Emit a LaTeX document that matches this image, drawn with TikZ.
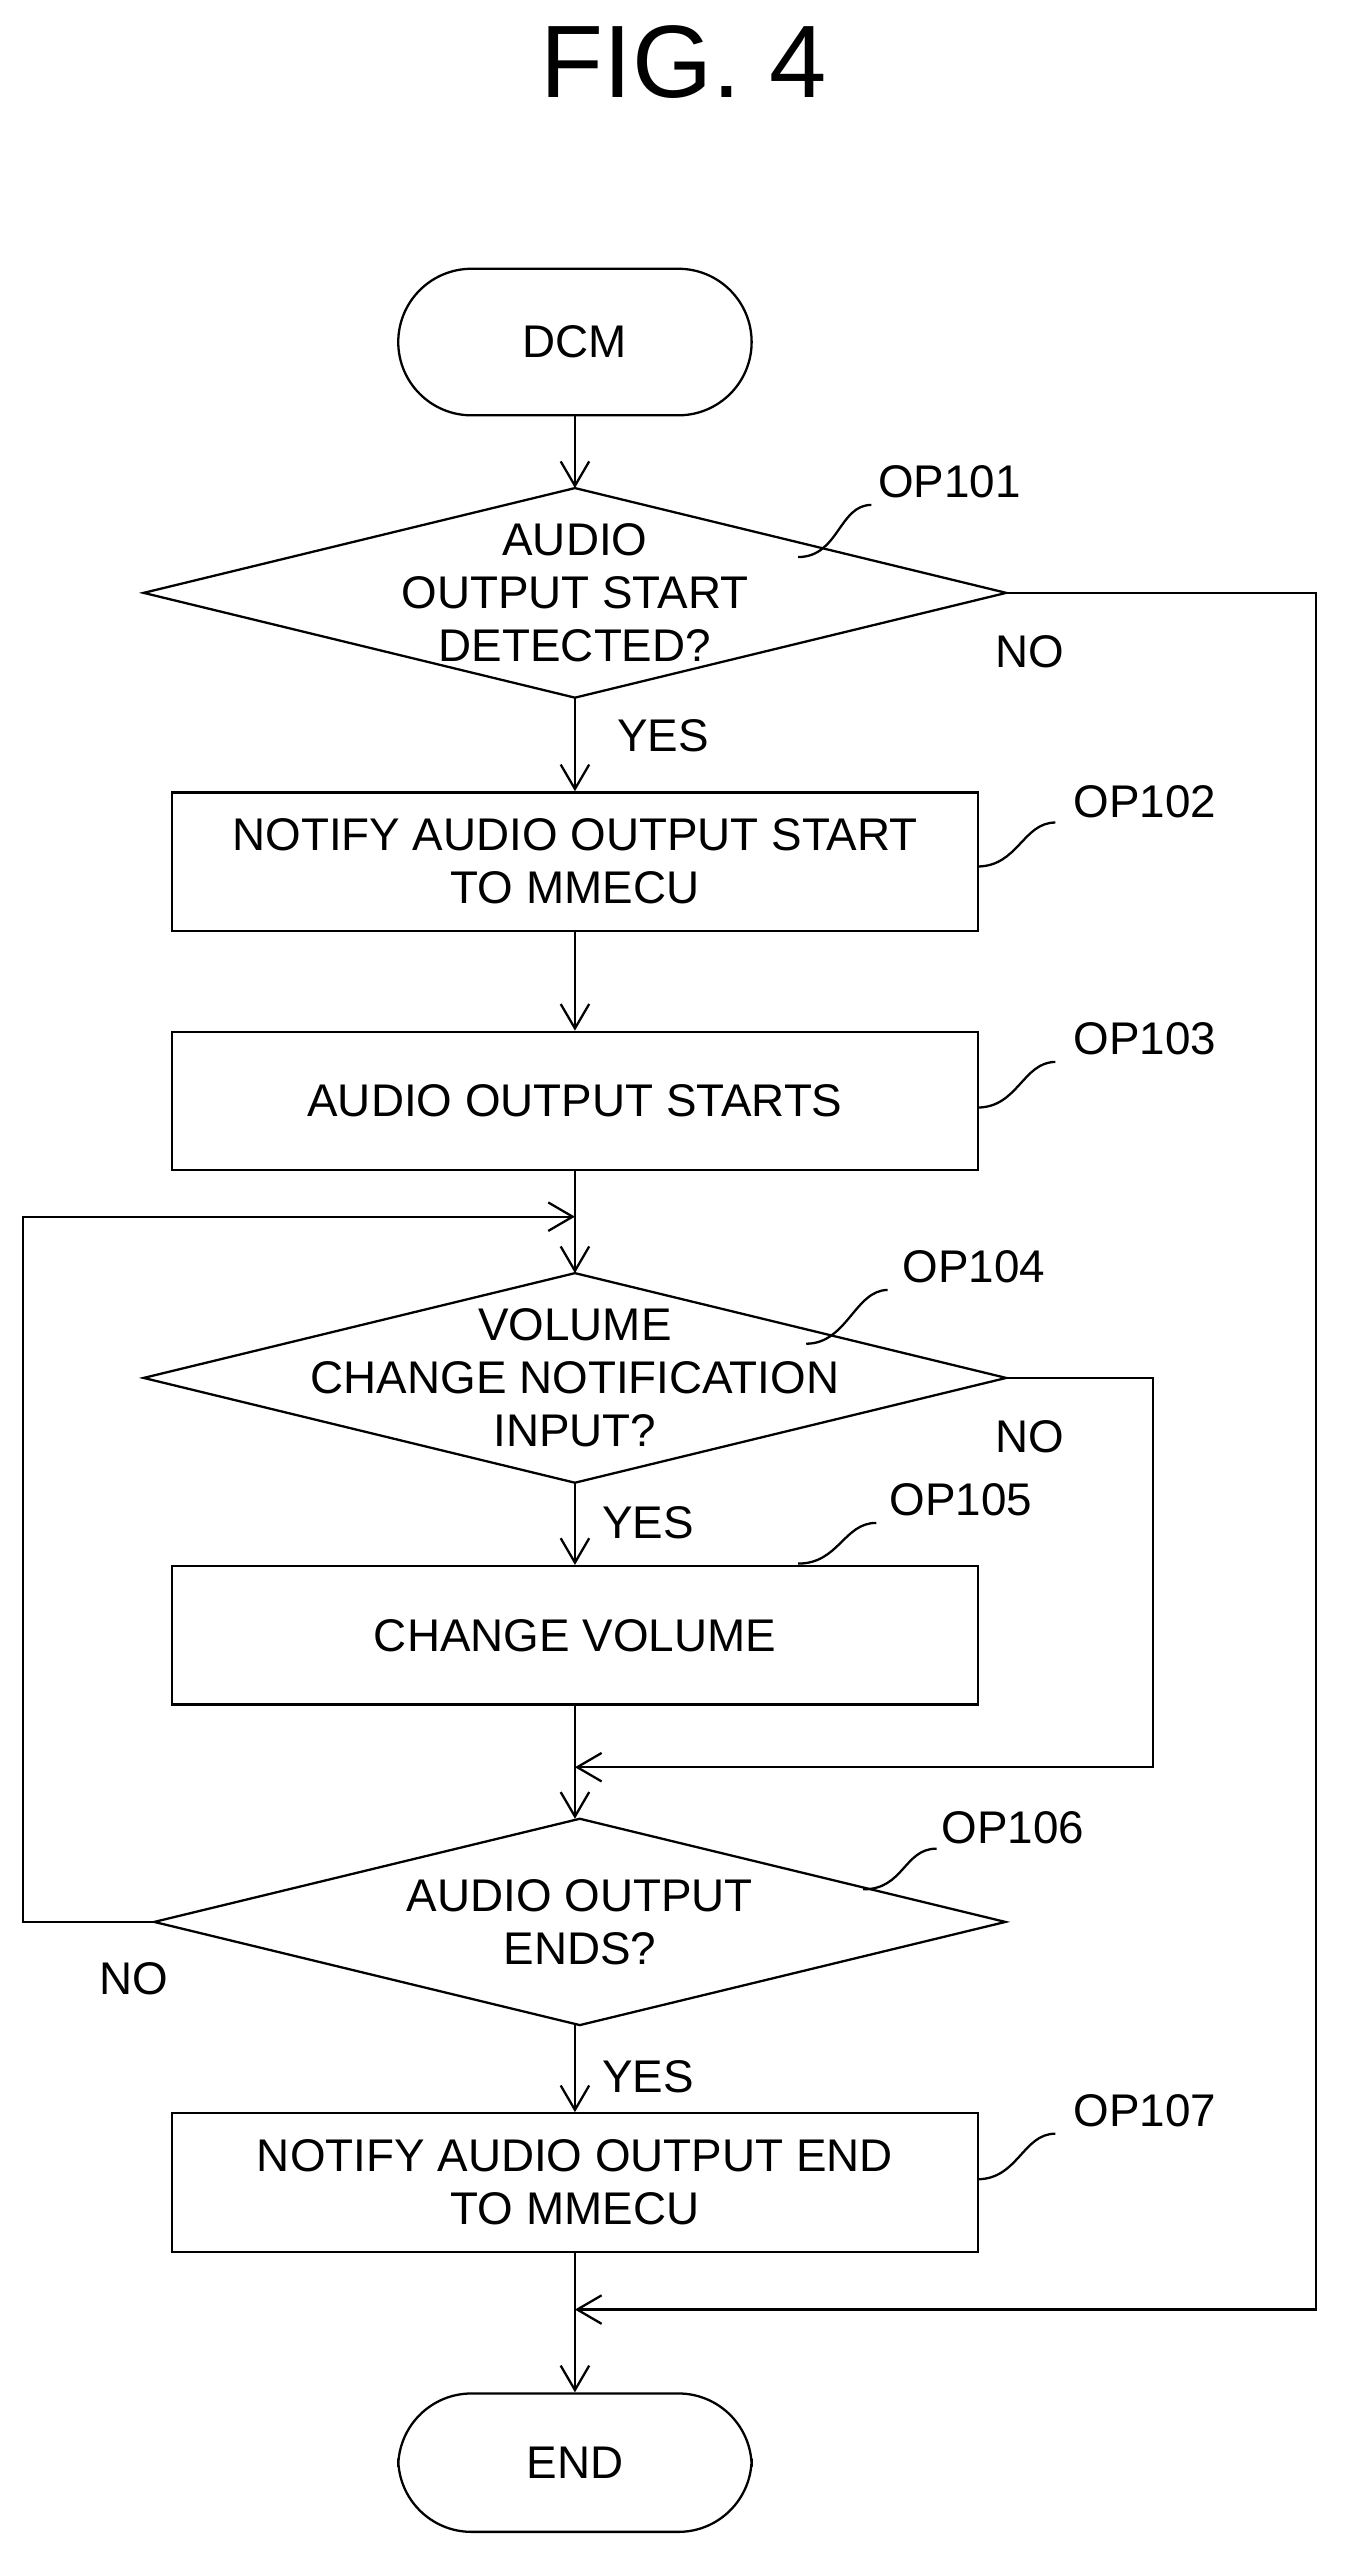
\documentclass[tikz,border=0pt]{standalone}
\usepackage{fontspec}
\setmainfont{Liberation Sans}
\usetikzlibrary{arrows.meta}
\begin{document}
\begin{tikzpicture}[x=0.02cm,y=-0.02cm,
  every node/.style={font=\fontsize{16}{18.5}\selectfont},
  box/.style={draw,line width=0.8pt,minimum width=9.9cm,minimum height=1.7cm,align=center},
  term/.style={draw,line width=0.8pt,minimum width=4.34cm,minimum height=1.8cm,rounded corners=0.9cm},
  dia/.style={minimum width=10.58cm,minimum height=2.56cm,align=center,inner sep=0},
  ln/.style={line width=0.8pt},
  arr/.style={ln,-{Straight Barb[length=3mm,width=3.5mm]}}]
\useasboundingbox (0,0) rectangle (826,1573);
\node (title) at (420,38) {\fontsize{36}{40}\selectfont FIG. 4};
\node[term] (dcm) at (353,210) {DCM};
\node[dia] (d1) at (353,364) {AUDIO\\OUTPUT START\\DETECTED?};
\node[box] (b2) at (353,529) {NOTIFY AUDIO OUTPUT START\\TO MMECU};
\node[box] (b3) at (353,676) {AUDIO OUTPUT STARTS};
\node[dia] (d4) at (353,846) {VOLUME\\CHANGE NOTIFICATION\\INPUT?};
\node[box] (b5) at (353,1004) {CHANGE VOLUME};
\node[dia,minimum width=10.44cm,minimum height=2.52cm] (d6) at (356,1180) {AUDIO OUTPUT\\ENDS?};
\node[box] (b7) at (353,1340) {NOTIFY AUDIO OUTPUT END\\TO MMECU};
\node[term,minimum height=1.7cm] (end) at (353,1512) {END};
\foreach \d in {d1,d4,d6}
  \draw[ln] (\d.west)--(\d.north)--(\d.east)--(\d.south)--cycle;
\coordinate (m4) at (353,747);
\coordinate (m6) at (353,1085);
\coordinate (m8) at (353,1418);
\draw[arr] (dcm) -- (d1.north);
\draw[arr] (d1.south) -- (b2);
\draw[arr] (b2) -- (b3);
\draw[ln] (b3.south) -- (m4);
\draw[arr] (m4) -- (d4.north);
\draw[arr] (d4.south) -- (b5);
\draw[ln] (b5.south) -- (m6);
\draw[arr] (m6) -- (d6.north -| m6);
\draw[arr] (d6.south -| m6) -- (b7);
\draw[ln] (b7.south) -- (m8);
\draw[arr] (m8) -- (end);
\draw[arr] (d1.east) -- (808,364) -- (808,1418) -- (m8);
\draw[arr] (d4.east) -- (708,846) -- (708,1085) -- (m6);
\draw[arr] (d6.west) -- (14,1180) -- (14,747) -- (m4);
\node (no1) at (632,400) {NO};
\node (no2) at (632,882) {NO};
\node (no3) at (82,1215) {NO};
\node (y1) at (407,452) {YES};
\node (y2) at (398,935) {YES};
\node (y3) at (398,1275) {YES};
\foreach \n/\t/\x/\y/\ax/\ay/\bx/\by in {
  l1/OP101/583/296/490/342/535/310,
  l2/OP102/703/492/600/532/648/505,
  l3/OP103/703/638/600/680/648/652,
  l4/OP104/598/778/495/825/545/792,
  l5/OP105/590/921/490/960/538/935,
  l6/OP106/622/1122/530/1160/575/1135,
  l7/OP107/703/1296/600/1338/648/1310}{
  \node (\n) at (\x,\y) {\t};
  \draw[ln] (\ax,\ay) .. controls ({\ax+25},\ay) and ({\bx-20},\by) .. (\bx,\by);
}
\end{tikzpicture}
\end{document}
